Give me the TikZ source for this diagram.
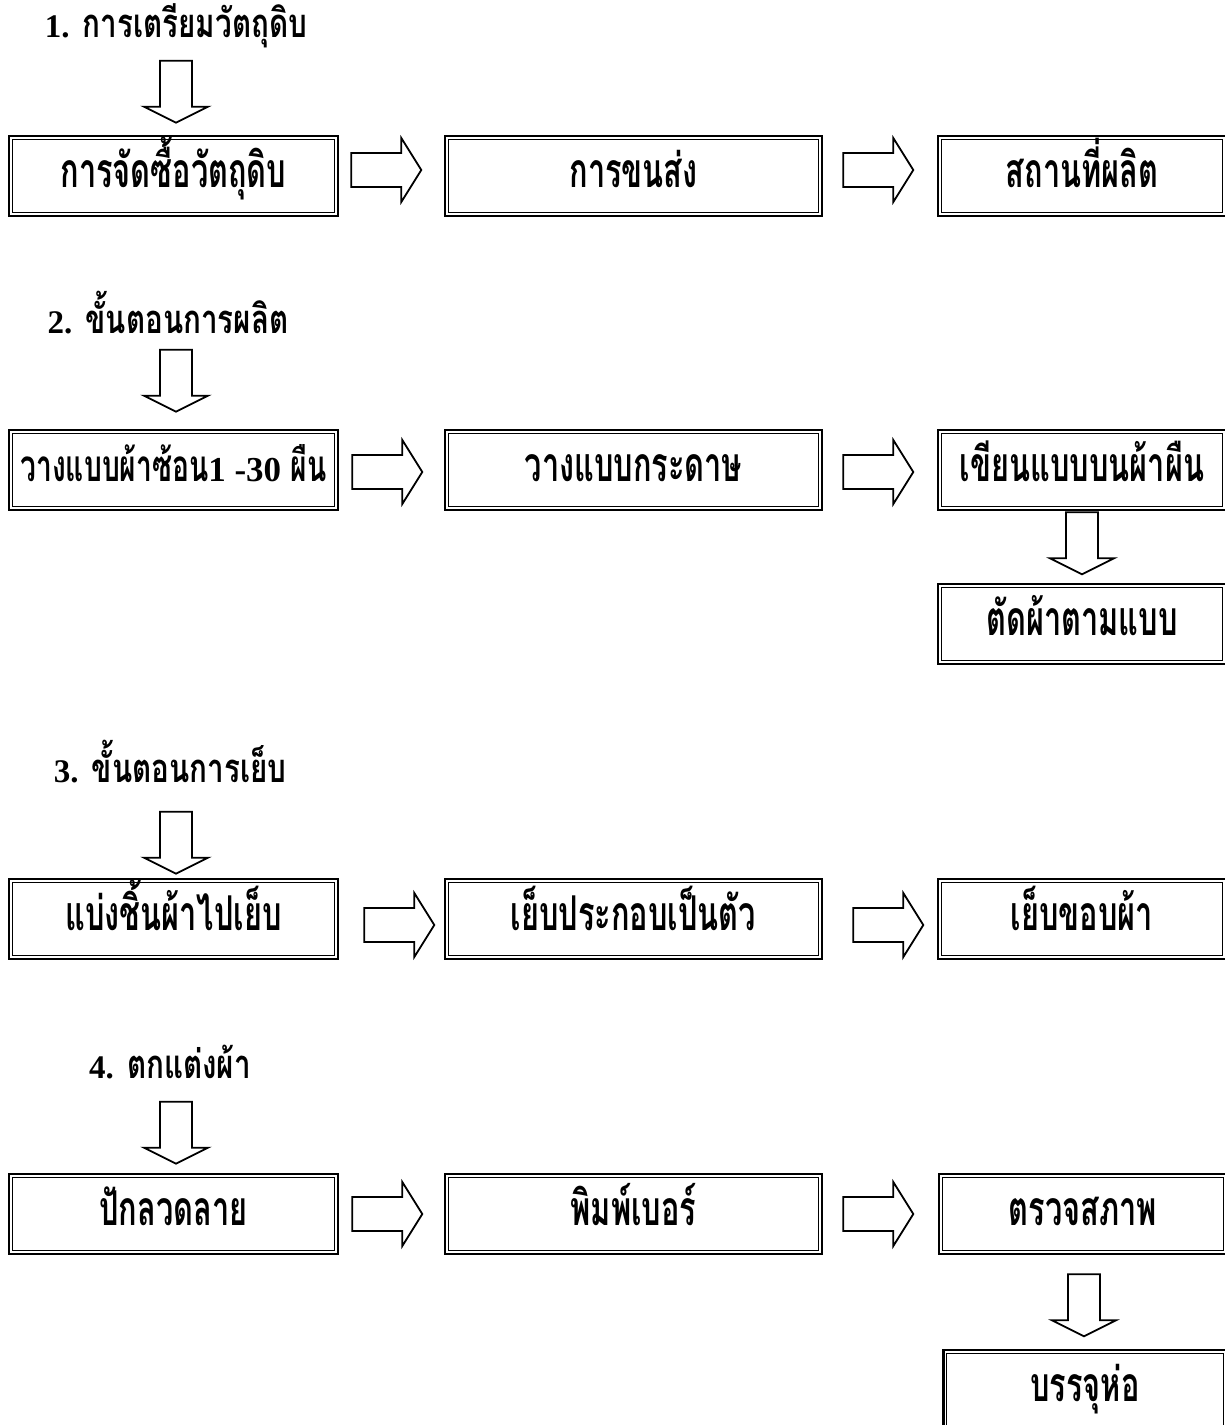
\documentclass[tikz,border=0pt]{standalone}
\usepackage{fontspec}
\setmainfont{Liberation Serif}
\newfontfamily\thaibox[Script=Thai, FakeStretch=0.64]{Loma}
\newfontfamily\thaihead[Script=Thai, FakeStretch=0.74]{Loma}
\newfontfamily\lat{Liberation Serif}
\usetikzlibrary{calc}
\tikzset{
  box/.style={draw, line width=2.6pt, inner sep=0pt, minimum height=80pt,
    text height=28pt, text depth=6pt,
    font=\bfseries\fontsize{48}{52}\selectfont\thaibox},
  innerline/.style={line width=1.2pt},
  barrow/.style={draw, line width=1.8pt, fill=white, line join=miter},
  heading/.style={anchor=base, inner sep=0pt,
    font=\bfseries\fontsize{40}{44}\selectfont\thaihead},
}
\newcommand\hnum[1]{{\lat\fontsize{33}{37}\selectfont #1}}
\newcommand\rarr[1]{\draw[barrow] #1 ++(0,-17) -- ++(50,0) -- ++(0,-15) -- ++(20,32) -- ++(-20,32) -- ++(0,-15) -- ++(-50,0) -- cycle;}
\newcommand\darr[1]{\draw[barrow] #1 ++(-16,0) -- ++(32,0) -- ++(0,46) -- ++(16,0) -- ++(-32,16) -- ++(-32,-16) -- ++(16,0) -- cycle;}
\begin{document}
\begin{tikzpicture}[x=1pt,y=-1pt]
\useasboundingbox (0,0) rectangle (1225,1425);
% headings
\node[heading] (h1) at (176,37) {\hnum{1.} การเตรียมวัตถุดิบ};
\node[heading] (h2) at (168,333) {\hnum{2.} ขั้นตอนการผลิต};
\node[heading] (h3) at (170,782) {\hnum{3.} ขั้นตอนการเย็บ};
\node[heading] (h4) at (170,1078) {\hnum{4.} ตกแต่งผ้า};
% row 1
\node[box, minimum width=329pt] (b11) at (173.5,176) {การจัดซื้อวัตถุดิบ};
\node[box, minimum width=377pt] (b12) at (633.5,176) {การขนส่ง};
\node[box, minimum width=288pt] (b13) at (1082,176) {สถานที่ผลิต};
% row 2
\node[box, minimum width=329pt, font=\bfseries\fontsize{44}{48}\selectfont\thaibox] (b21) at (173.5,470) {วางแบบผ้าซ้อน{\lat\fontsize{35}{40}\selectfont 1 -30} ผืน};
\node[box, minimum width=377pt] (b22) at (633.5,470) {วางแบบกระดาษ};
\node[box, minimum width=288pt] (b23) at (1082,470) {เขียนแบบบนผ้าผืน};
\node[box, minimum width=288pt] (b24) at (1082,624) {ตัดผ้าตามแบบ};
% row 3
\node[box, minimum width=329pt] (b31) at (173.5,919) {แบ่งชิ้นผ้าไปเย็บ};
\node[box, minimum width=377pt] (b32) at (633.5,919) {เย็บประกอบเป็นตัว};
\node[box, minimum width=288pt] (b33) at (1082,919) {เย็บขอบผ้า};
% row 4
\node[box, minimum width=329pt] (b41) at (173.5,1214) {ปักลวดลาย};
\node[box, minimum width=377pt] (b42) at (633.5,1214) {พิมพ์เบอร์};
\node[box, minimum width=288pt] (b43) at (1083,1214) {ตรวจสภาพ};
\node[box, minimum width=283pt] (b44) at (1085,1390) {บรรจุห่อ};
% inner lines of the double borders
\foreach \n in {b11,b12,b13,b21,b22,b23,b24,b31,b32,b33,b41,b42,b43,b44}
  \draw[innerline] ([shift={(4.5pt,-4.5pt)}]\n.north west) rectangle ([shift={(-4.5pt,4.5pt)}]\n.south east);
% down arrows from headings
\darr{($(b11.north)+(2.5,-74)$)}
\darr{($(b21.north)+(2.5,-79)$)}
\darr{($(b31.north)+(2.5,-66)$)}
\darr{($(b41.north)+(2.5,-71)$)}
% down arrows in right column
\darr{($(b23.south)+(0,1)$)}
\darr{($(b43.south)+(1,19)$)}
% right arrows
\rarr{($(b11.east)+(12,-6)$)}
\rarr{($(b12.east)+(20,-6)$)}
\rarr{($(b21.east)+(13,2)$)}
\rarr{($(b22.east)+(20,2)$)}
\rarr{($(b31.east)+(25,6)$)}
\rarr{($(b32.east)+(30,6)$)}
\rarr{($(b41.east)+(13,0)$)}
\rarr{($(b42.east)+(20,0)$)}
\end{tikzpicture}
\end{document}
